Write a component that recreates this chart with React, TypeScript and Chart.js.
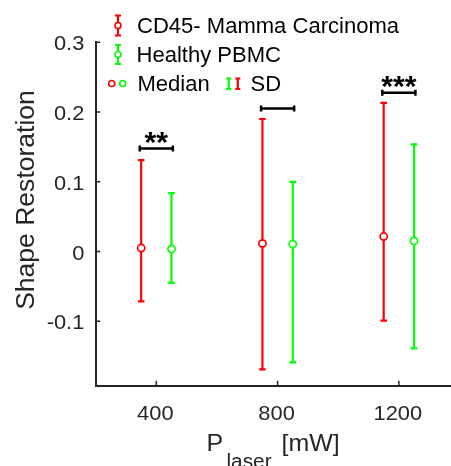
import { useEffect, useRef } from 'react';
import { Chart, registerables } from 'chart.js';

Chart.register(...registerables);

// ---- data ----
const powerTicks = [400, 800, 1200];
const yTicks = [-0.1, 0, 0.1, 0.2, 0.3];

const carcinomaX = [350, 750, 1150];
const carcinomaMedian = [0.005, 0.0115, 0.0215];
const carcinomaUpper = [0.131, 0.19, 0.213];
const carcinomaLower = [-0.0715, -0.169, -0.099];

const pbmcX = [450, 850, 1250];
const pbmcMedian = [0.0037, 0.0105, 0.0152];
const pbmcUpper = [0.0836, 0.0999, 0.1535];
const pbmcLower = [-0.045, -0.159, -0.139];

const sigLevel = [0.1478, 0.205, 0.2276];
const sigStars = ['**', '', '***'];

const seriesNames = ['CD45- Mamma Carcinoma', 'Healthy PBMC'];
const RED = '#ff0000';
const GREEN = '#00ff00';
const AXIS = '#262626';
const FONT = "'Liberation Sans', Arial, Helvetica, sans-serif";
const SX = 1.04;

function txt(ctx: CanvasRenderingContext2D, s: string, x: number, y: number, size: number,
  align: CanvasTextAlign = 'left', color = '#000', bold = false, rot = 0) {
  ctx.save();
  ctx.translate(x, y);
  if (rot) ctx.rotate(rot);
  ctx.scale(SX, 1);
  ctx.font = `${bold ? 'bold ' : ''}${size}px ${FONT}`;
  ctx.fillStyle = color;
  ctx.textAlign = align;
  ctx.textBaseline = 'alphabetic';
  ctx.fillText(s, 0, 0);
  ctx.restore();
}

function errBar(ctx: CanvasRenderingContext2D, x: number, y1: number, y2: number, capHalf: number, color: string, lw: number) {
  ctx.save();
  ctx.strokeStyle = color;
  ctx.lineWidth = lw;
  ctx.beginPath();
  ctx.moveTo(x, y1); ctx.lineTo(x, y2);
  ctx.moveTo(x - capHalf, y1); ctx.lineTo(x + capHalf, y1);
  ctx.moveTo(x - capHalf, y2); ctx.lineTo(x + capHalf, y2);
  ctx.stroke();
  ctx.restore();
}

function circle(ctx: CanvasRenderingContext2D, x: number, y: number, r: number, color: string) {
  ctx.save();
  ctx.strokeStyle = color;
  ctx.fillStyle = '#fff';
  ctx.lineWidth = 1.6;
  ctx.beginPath();
  ctx.arc(x, y, r, 0, Math.PI * 2);
  ctx.fill();
  ctx.stroke();
  ctx.restore();
}

const decorPlugin = {
  id: 'decor',
  beforeDatasetsDraw(chart: any) {
    const ctx = chart.ctx as CanvasRenderingContext2D;
    const xs = chart.scales.x, ys = chart.scales.y;
    const groups = [
      { xv: carcinomaX, lo: carcinomaLower, hi: carcinomaUpper, c: RED },
      { xv: pbmcX, lo: pbmcLower, hi: pbmcUpper, c: GREEN },
    ];
    groups.forEach(g => {
      g.xv.forEach((xv, i) => {
        errBar(ctx, xs.getPixelForValue(xv), ys.getPixelForValue(g.hi[i]), ys.getPixelForValue(g.lo[i]), 3.3, g.c, 2.2);
      });
    });
  },
  afterDraw(chart: any) {
    const ctx = chart.ctx as CanvasRenderingContext2D;
    const xs = chart.scales.x, ys = chart.scales.y;
    const area = chart.chartArea;

    // inward tick marks
    ctx.save();
    ctx.strokeStyle = AXIS;
    ctx.lineWidth = 1.5;
    ctx.beginPath();
    yTicks.forEach(v => {
      const py = ys.getPixelForValue(v);
      ctx.moveTo(area.left, py); ctx.lineTo(area.left + 4.5, py);
    });
    powerTicks.forEach(v => {
      const px = xs.getPixelForValue(v);
      ctx.moveTo(px, area.bottom); ctx.lineTo(px, area.bottom - 5);
    });
    ctx.stroke();
    ctx.restore();

    // tick labels
    yTicks.forEach(v => {
      const py = ys.getPixelForValue(v);
      txt(ctx, String(Number(v.toFixed(1))), area.left - 11.4, py + 8, 21, 'right', AXIS);
    });
    powerTicks.forEach(v => {
      const px = xs.getPixelForValue(v);
      txt(ctx, String(v), px - 1, area.bottom + 33.8, 21, 'center', AXIS);
    });

    // significance bars
    sigLevel.forEach((lv, i) => {
      const x1 = xs.getPixelForValue(carcinomaX[i]) - 1.4;
      const x2 = xs.getPixelForValue(pbmcX[i]) + 1.4;
      const py = ys.getPixelForValue(lv);
      ctx.save();
      ctx.strokeStyle = '#000';
      ctx.lineWidth = 2.5;
      ctx.beginPath();
      ctx.moveTo(x1, py); ctx.lineTo(x2, py);
      ctx.moveTo(x1, py - 3); ctx.lineTo(x1, py + 3);
      ctx.moveTo(x2, py - 3); ctx.lineTo(x2, py + 3);
      ctx.stroke();
      ctx.restore();
      if (sigStars[i]) txt(ctx, sigStars[i], (x1 + x2) / 2, py + 3.5, 29, 'center', '#000', true);
    });

    // axis titles
    txt(ctx, 'Shape Restoration', 34, 200, 25.5, 'center', AXIS, false, -Math.PI / 2);
    txt(ctx, 'P', 206.5, 451, 24, 'left', AXIS);
    txt(ctx, 'laser', 226.5, 468, 20, 'left', AXIS);
    txt(ctx, '[mW]', 281.5, 451, 24, 'left', AXIS);

    // legend
    errBar(ctx, 118, 15.5, 35.5, 3, RED, 2.2);
    circle(ctx, 118, 25.5, 3, RED);
    txt(ctx, seriesNames[0], 137, 33.3, 21.2, 'left', '#000');
    errBar(ctx, 118, 45, 64, 3, GREEN, 2.2);
    circle(ctx, 118, 54.5, 3, GREEN);
    txt(ctx, seriesNames[1], 136.5, 62, 21.2, 'left', '#000');
    circle(ctx, 111.7, 83.5, 3, RED);
    circle(ctx, 122.7, 83.5, 3, GREEN);
    txt(ctx, 'Median', 137.5, 91.3, 21.2, 'left', '#000');
    errBar(ctx, 228.7, 78.5, 89, 2.5, GREEN, 2.2);
    errBar(ctx, 237.8, 78.5, 89, 2.5, RED, 2.2);
    txt(ctx, 'SD', 250.5, 91.3, 21.2, 'left', '#000');
  },
};

export default function App() {
  const ref = useRef<HTMLCanvasElement | null>(null);
  useEffect(() => {
    if (!ref.current) return;
    const chart = new Chart(ref.current, {
      type: 'scatter',
      data: {
        datasets: [
          {
            label: seriesNames[0],
            data: carcinomaX.map((x, i) => ({ x, y: carcinomaMedian[i] })),
            borderColor: RED,
            backgroundColor: '#fff',
            pointRadius: 3.6,
            pointBorderWidth: 1.7,
          },
          {
            label: seriesNames[1],
            data: pbmcX.map((x, i) => ({ x, y: pbmcMedian[i] })),
            borderColor: GREEN,
            backgroundColor: '#fff',
            pointRadius: 3.6,
            pointBorderWidth: 1.7,
          },
        ],
      },
      options: {
        responsive: false,
        animation: false,
        events: [],
        devicePixelRatio: 1,
        layout: { autoPadding: false, padding: { top: 42.3, left: 0, right: 0, bottom: 0 } },
        plugins: { legend: { display: false }, tooltip: { enabled: false } },
        scales: {
          x: {
            type: 'linear',
            min: 200,
            max: 1372,
            grid: { display: false, drawTicks: false },
            border: { display: true, color: AXIS, width: 2 },
            ticks: { display: false },
            afterBuildTicks: (s: any) => { s.ticks = powerTicks.map(v => ({ value: v })); },
            afterFit: (s: any) => { s.height = 80.3; },
          },
          y: {
            type: 'linear',
            min: -0.1924,
            max: 0.3,
            grid: { display: false, drawTicks: false },
            border: { display: true, color: AXIS, width: 2 },
            ticks: { display: false },
            afterBuildTicks: (s: any) => { s.ticks = yTicks.map(v => ({ value: v })); },
            afterFit: (s: any) => { s.width = 95.7; },
          },
        },
      },
      plugins: [decorPlugin],
    } as any);
    return () => chart.destroy();
  }, []);
  return (
    <div style={{ position: 'fixed', left: 0, top: 0, width: 451, height: 466, background: '#fff' }}>
      <canvas ref={ref} width={451} height={466} style={{ display: 'block' }} />
    </div>
  );
}
